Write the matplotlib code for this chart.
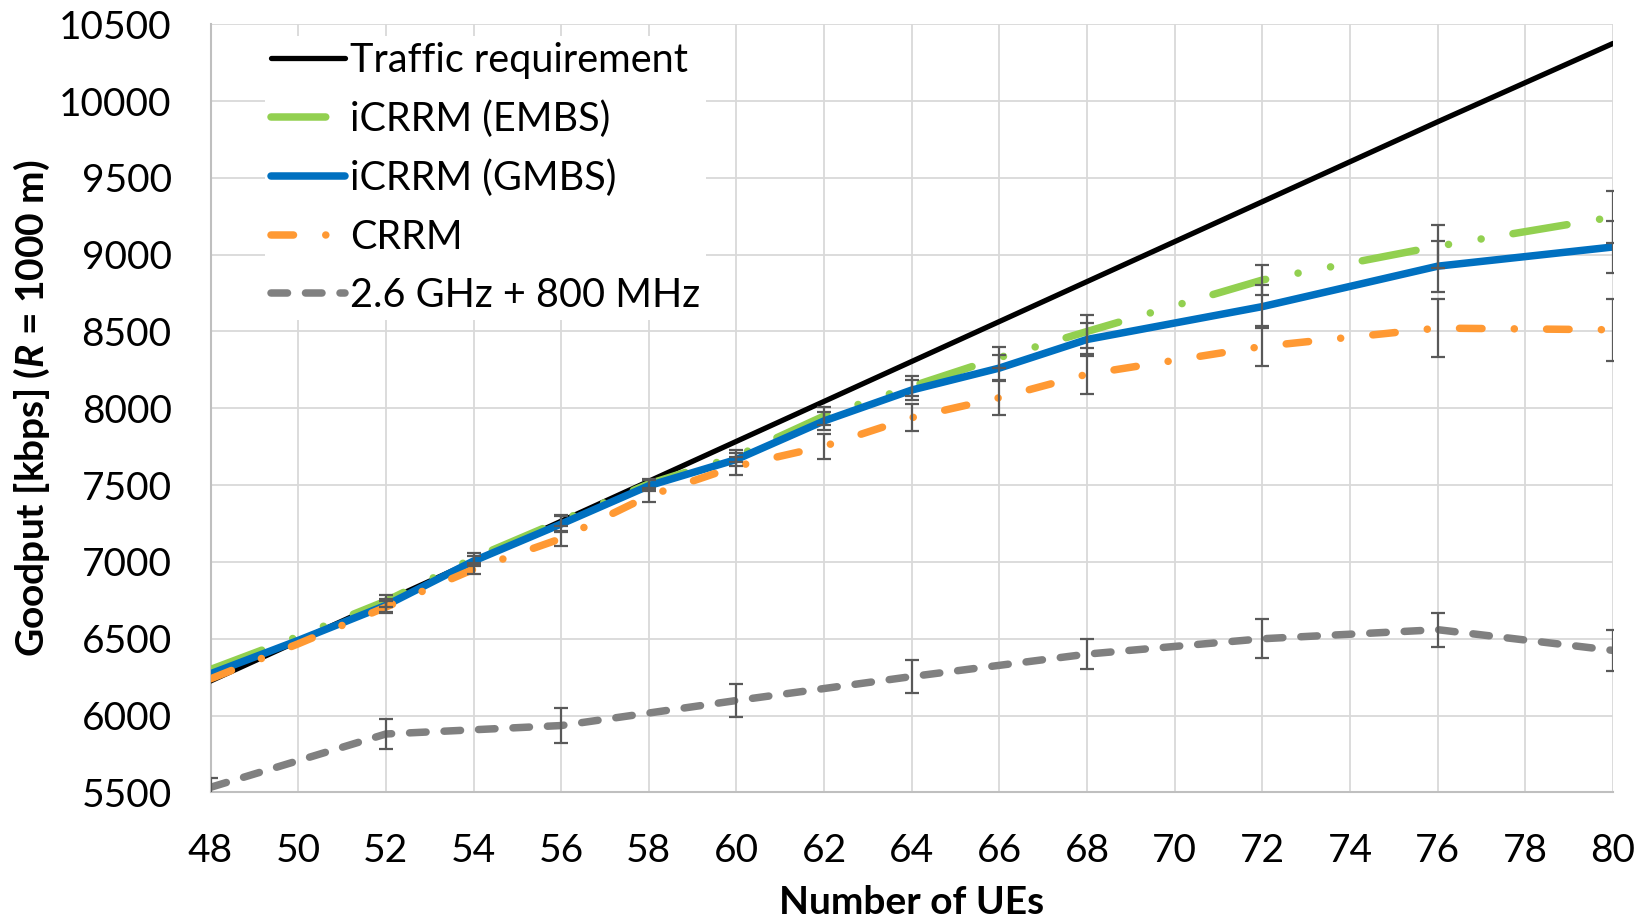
import numpy as np
import matplotlib
matplotlib.use("Agg")
import matplotlib.pyplot as plt

# ---------------- data ----------------
ues = [48, 50, 52, 54, 56, 58, 60, 62, 64, 66, 68, 72, 76, 80]
traffic_req = [6225, 6485, 6745, 7005, 7265, 7525, 7785, 8045, 8305, 8565, 8825, 9345, 9865, 10375]
icrrm_embs = [6300, 6515, 6745, 7025, 7268, 7508, 7688, 7950, 8143, 8330, 8500, 8835, 9055, 9245]
icrrm_gmbs = [6272, 6489, 6717, 7006, 7247, 7496, 7667, 7918, 8119, 8262, 8448, 8662, 8925, 9050]
crrm = [6239, 6467, 6706, 6952, 7152, 7430, 7623, 7753, 7939, 8069, 8222, 8403, 8522, 8511]
embs_err = [0, 0, 40, 30, 35, 30, 40, 60, 65, 70, 108, 95, 140, 170]
gmbs_err = [0, 0, 40, 30, 55, 35, 45, 60, 65, 85, 110, 140, 165, 170]
crrm_err = [0, 0, 40, 30, 48, 40, 60, 80, 87, 112, 130, 130, 190, 200]

ues_base = [48, 52, 56, 60, 64, 68, 72, 76, 80]
base_2600_800 = [5533, 5880, 5935, 6098, 6254, 6400, 6500, 6559, 6424]
base_err = [60, 95, 113, 110, 110, 98, 128, 111, 135]

labels = ["Traffic requirement", "iCRRM (EMBS)", "iCRRM (GMBS)", "CRRM", "2.6 GHz + 800 MHz"]
xticks = list(range(48, 81, 2))
yticks = list(range(5500, 10501, 500))

# ---------------- style ----------------
plt.rcParams['font.family'] = ['Lato', 'DejaVu Sans']
plt.rcParams['mathtext.fontset'] = 'custom'
plt.rcParams['mathtext.it'] = 'Lato:italic:bold'
plt.rcParams['mathtext.rm'] = 'Lato:bold'

fig = plt.figure(figsize=(16.5, 9.17), dpi=100)
ax = fig.add_axes([0.1276, 0.1359, 0.8500, 0.8377])

err_color = '#595959'
lw = 5.4

ax.plot(ues, traffic_req, color='black', lw=3.8, solid_capstyle='round', zorder=3, label=labels[0])
ax.plot(ues, icrrm_embs, color='#92D050', lw=lw, dashes=(7.3, 4.4, 0.01, 4.4, 0.01, 4.3),
        dash_capstyle='round', zorder=4, label=labels[1])
ax.plot(ues, icrrm_gmbs, color='#0070C0', lw=lw, solid_capstyle='round', zorder=5, label=labels[2])
ax.plot(ues, crrm, color='#FF9933', lw=lw, dashes=(3.0, 4.3, 0.01, 4.3),
        dash_capstyle='round', zorder=6, label=labels[3])
ax.plot(ues_base, base_2600_800, color='#808080', lw=lw, dashes=(2.2, 2.4),
        dash_capstyle='round', zorder=6, label=labels[4])

def errs(xs, ys, es):
    xs = np.asarray(xs); ys = np.asarray(ys); es = np.asarray(es)
    m = es > 0
    ax.errorbar(xs[m], ys[m], yerr=es[m], fmt='none', ecolor=err_color,
                elinewidth=1.6, capsize=5, capthick=1.6, zorder=7)

errs(ues, icrrm_embs, embs_err)
errs(ues, icrrm_gmbs, gmbs_err)
errs(ues, crrm, crrm_err)
errs(ues_base, base_2600_800, base_err)

ax.set_xlim(48, 80)
ax.set_ylim(5500, 10500)
ax.set_xticks(xticks)
ax.set_yticks(yticks)
ax.grid(True, color='#D9D9D9', lw=1.3, zorder=0)
ax.set_axisbelow(True)
for s in ['top', 'right']:
    ax.spines[s].set_visible(False)
for s in ['left', 'bottom']:
    ax.spines[s].set_color('#BFBFBF')
    ax.spines[s].set_linewidth(1.5)
ax.tick_params(axis='both', length=0, labelsize=28)
ax.tick_params(axis='x', pad=29)
ax.tick_params(axis='y', pad=28)

ax.set_xlabel('Number of UEs', fontsize=28, fontweight='bold', labelpad=12)
ax.set_ylabel(r'Goodput [kbps] ($\mathit{R}$ = 1000 m)', fontsize=28, fontweight='bold', labelpad=5)

leg = ax.legend(loc='upper left', bbox_to_anchor=(0.025, 1.01), fontsize=28.5, frameon=True,
                facecolor='white', edgecolor='none', framealpha=1.0, fancybox=False,
                handlelength=1.87, handletextpad=0.12, labelspacing=0.54, borderpad=0.15)
leg.set_zorder(10)

fig.savefig('out.png', dpi=100)
